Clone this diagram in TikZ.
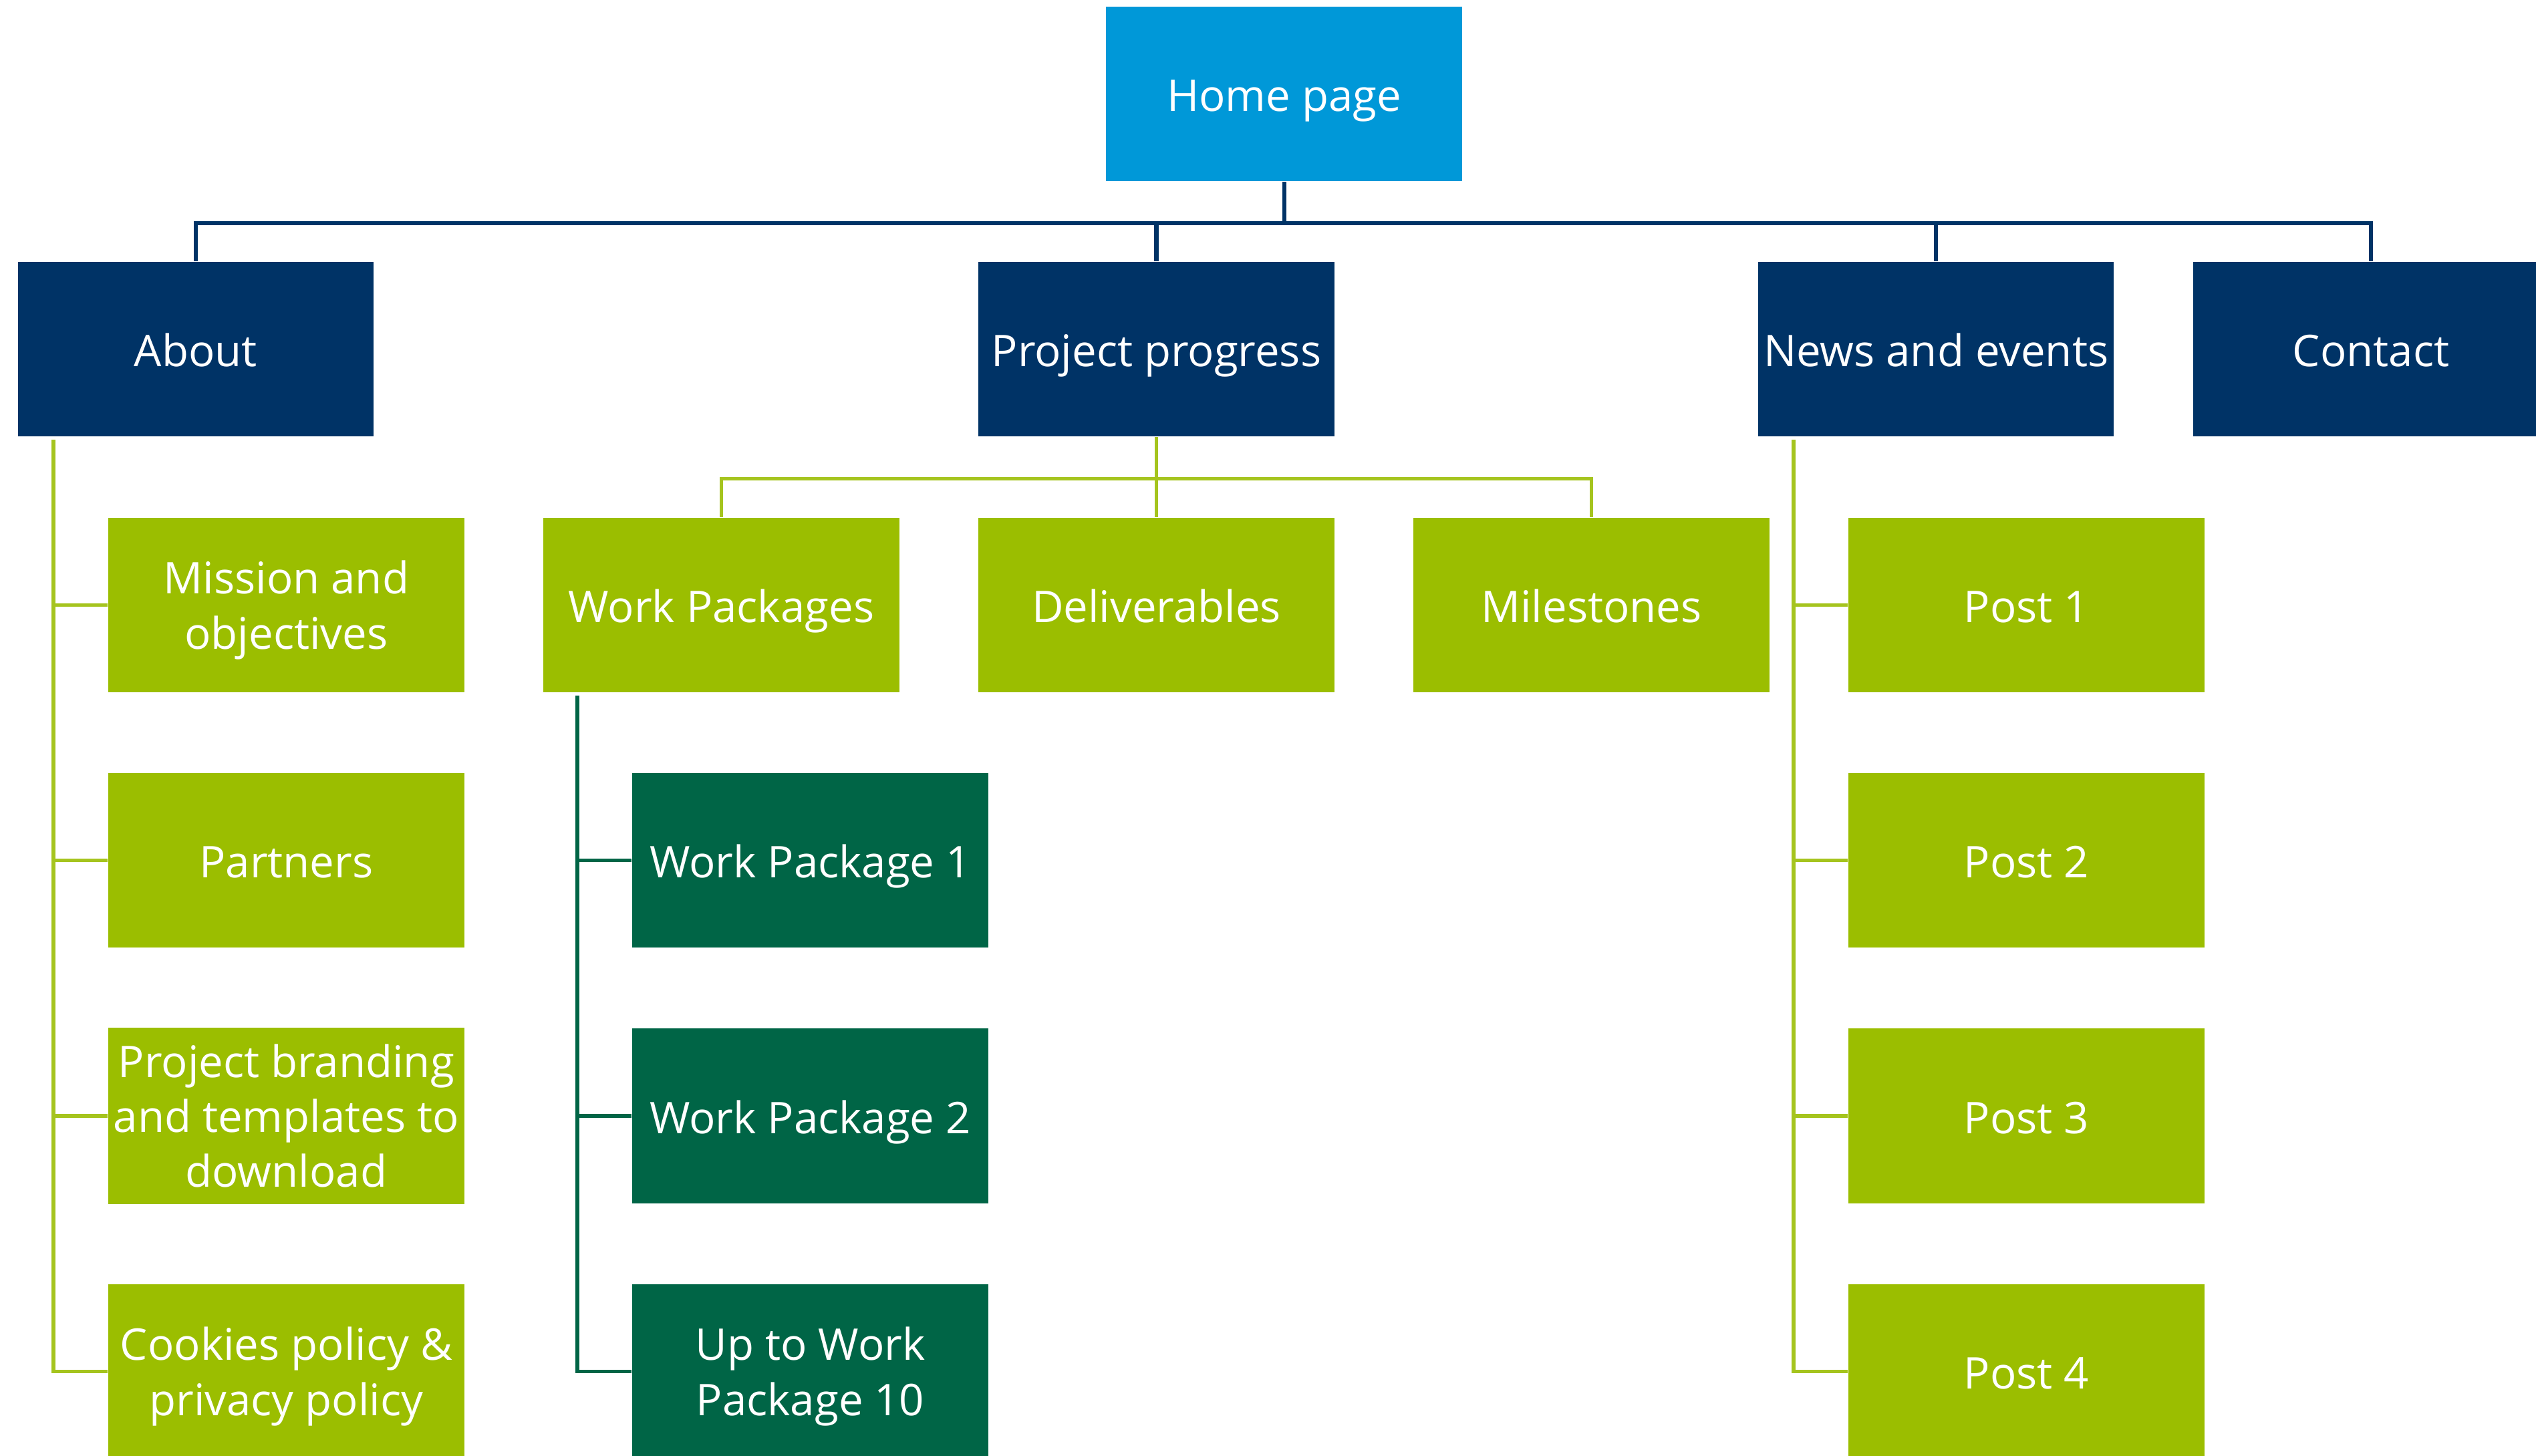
\documentclass[tikz,border=0pt]{standalone}
\usepackage{fontspec}
\setmainfont{Open Sans}
\definecolor{homeblue}{RGB}{0,152,216}
\definecolor{navy}{RGB}{0,51,102}
\definecolor{lime}{RGB}{155,190,0}
\definecolor{limeline}{RGB}{165,196,30}
\definecolor{dkgreen}{RGB}{0,101,70}
\newcommand{\firstline}{\rule{0pt}{15.3pt}}
\tikzset{
  box/.style={rectangle, minimum width=110pt, minimum height=54pt, inner sep=0pt,
    text=white, align=center, font=\fontsize{13.5}{17}\selectfont,
    execute at begin node={\rule{0pt}{15.9pt}}, execute at end node=\strut},
  homebox/.style={box, fill=homeblue},
  topbox/.style={box, fill=navy},
  subbox/.style={box, fill=lime},
  wpbox/.style={box, fill=dkgreen},
  navyline/.style={draw=navy, line width=1.3pt},
  limeline/.style={draw=limeline, line width=1.1pt},
  greenline/.style={draw=dkgreen, line width=1.1pt},
}
\begin{document}
\begin{tikzpicture}[x=0.5pt, y=-0.5pt]
\useasboundingbox (0,0) rectangle (1568,900);
\fill[white] (0,0) rectangle (1568,900);
% level 0
\node[homebox] (home) at (794,58) {Home page};
% level 1
\node[topbox] (about) at (121,216) {About};
\node[topbox] (pp) at (715,216) {Project progress};
\node[topbox] (news) at (1197,216) {News and events};
\node[topbox] (contact) at (1466,216) {Contact};
% level 2 under project progress
\node[subbox] (wps) at (446,374) {Work Packages};
\node[subbox] (del) at (715,374) {Deliverables};
\node[subbox] (mil) at (984,374) {Milestones};
% about children
\node[subbox] (mission) at (177,374) {\firstline Mission and\\objectives};
\node[subbox] (partners) at (177,532) {Partners};
\node[subbox] (branding) at (177,690) {\firstline Project branding\\and templates to\\download};
\node[subbox] (cookies) at (177,848) {\firstline Cookies policy \&\\privacy policy};
% work packages
\node[wpbox] (wp1) at (501,532) {Work Package 1};
\node[wpbox] (wp2) at (501,690) {Work Package 2};
\node[wpbox] (wp10) at (501,848) {\firstline Up to Work\\Package 10};
% news children
\node[subbox] (post1) at (1253,374) {Post 1};
\node[subbox] (post2) at (1253,532) {Post 2};
\node[subbox] (post3) at (1253,690) {Post 3};
\node[subbox] (post4) at (1253,848) {Post 4};
% top connectors
\coordinate (bus) at (794,138);
\draw[navyline] (home.south) -- (bus);
\draw[navyline] (about.north) |- (bus) -| (contact.north);
\draw[navyline] (pp.north) -- (pp.north |- bus);
\draw[navyline] (news.north) -- (news.north |- bus);
% project progress connectors
\coordinate (gbus) at (715,296);
\draw[limeline] (pp.south) -- (del.north);
\draw[limeline] (wps.north) |- (gbus) -| (mil.north);
% about trunk
\coordinate (at) at (33,272);
\draw[limeline] (at) |- (cookies.west);
\draw[limeline] (at |- mission.west) -- (mission.west);
\draw[limeline] (at |- partners.west) -- (partners.west);
\draw[limeline] (at |- branding.west) -- (branding.west);
% work packages trunk
\coordinate (wt) at (357,430);
\draw[greenline] (wt) |- (wp10.west);
\draw[greenline] (wt |- wp1.west) -- (wp1.west);
\draw[greenline] (wt |- wp2.west) -- (wp2.west);
% news trunk
\coordinate (nt) at (1109,272);
\draw[limeline] (nt) |- (post4.west);
\draw[limeline] (nt |- post1.west) -- (post1.west);
\draw[limeline] (nt |- post2.west) -- (post2.west);
\draw[limeline] (nt |- post3.west) -- (post3.west);
\end{tikzpicture}
\end{document}
